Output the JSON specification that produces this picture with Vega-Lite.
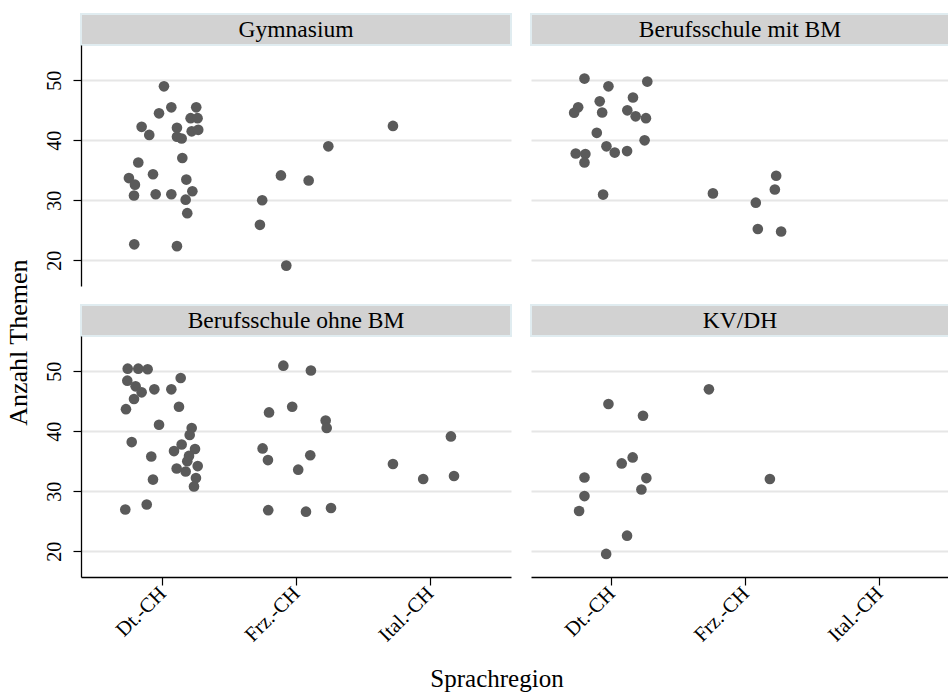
{
  "$schema": "https://vega.github.io/schema/vega-lite/v6.json",
  "padding": {"left": 5, "top": 13, "right": 0, "bottom": 0},
  "background": "#ffffff",
  "config": {
    "font": "Liberation Serif",
    "view": {"stroke": null},
    "axis": {"labelFont": "Liberation Serif", "labelColor": "#000000", "titleFont": "Liberation Serif"},
    "title": {"font": "Liberation Serif", "fontWeight": "normal", "color": "#000000"}
  },
  "datasets": {
    "pts": [
      {"schule": "Gymnasium", "pos": 1.012, "anzahl": 49.0},
      {"schule": "Gymnasium", "pos": 1.067, "anzahl": 45.5},
      {"schule": "Gymnasium", "pos": 1.253, "anzahl": 45.5},
      {"schule": "Gymnasium", "pos": 0.975, "anzahl": 44.5},
      {"schule": "Gymnasium", "pos": 1.211, "anzahl": 43.7},
      {"schule": "Gymnasium", "pos": 1.263, "anzahl": 43.7},
      {"schule": "Gymnasium", "pos": 0.845, "anzahl": 42.25},
      {"schule": "Gymnasium", "pos": 1.109, "anzahl": 42.1},
      {"schule": "Gymnasium", "pos": 0.902, "anzahl": 40.9},
      {"schule": "Gymnasium", "pos": 1.109, "anzahl": 40.6},
      {"schule": "Gymnasium", "pos": 1.144, "anzahl": 40.3},
      {"schule": "Gymnasium", "pos": 1.219, "anzahl": 41.5},
      {"schule": "Gymnasium", "pos": 1.268, "anzahl": 41.75},
      {"schule": "Gymnasium", "pos": 1.149, "anzahl": 37.05},
      {"schule": "Gymnasium", "pos": 0.82, "anzahl": 36.3},
      {"schule": "Gymnasium", "pos": 0.93, "anzahl": 34.35},
      {"schule": "Gymnasium", "pos": 0.75, "anzahl": 33.7},
      {"schule": "Gymnasium", "pos": 0.795, "anzahl": 32.6},
      {"schule": "Gymnasium", "pos": 1.179, "anzahl": 33.45},
      {"schule": "Gymnasium", "pos": 0.788, "anzahl": 30.8},
      {"schule": "Gymnasium", "pos": 0.95, "anzahl": 31.0},
      {"schule": "Gymnasium", "pos": 1.067, "anzahl": 31.0},
      {"schule": "Gymnasium", "pos": 1.224, "anzahl": 31.5},
      {"schule": "Gymnasium", "pos": 1.174, "anzahl": 30.1},
      {"schule": "Gymnasium", "pos": 1.186, "anzahl": 27.85},
      {"schule": "Gymnasium", "pos": 0.79, "anzahl": 22.65},
      {"schule": "Gymnasium", "pos": 1.109, "anzahl": 22.35},
      {"schule": "Gymnasium", "pos": 1.746, "anzahl": 30.0},
      {"schule": "Gymnasium", "pos": 1.729, "anzahl": 25.9},
      {"schule": "Gymnasium", "pos": 1.886, "anzahl": 34.15},
      {"schule": "Gymnasium", "pos": 2.093, "anzahl": 33.3},
      {"schule": "Gymnasium", "pos": 2.24, "anzahl": 39.0},
      {"schule": "Gymnasium", "pos": 1.926, "anzahl": 19.1},
      {"schule": "Gymnasium", "pos": 2.723, "anzahl": 42.4},

      {"schule": "Berufsschule mit BM", "pos": 0.799, "anzahl": 50.3},
      {"schule": "Berufsschule mit BM", "pos": 0.978, "anzahl": 49.0},
      {"schule": "Berufsschule mit BM", "pos": 1.268, "anzahl": 49.8},
      {"schule": "Berufsschule mit BM", "pos": 0.913, "anzahl": 46.5},
      {"schule": "Berufsschule mit BM", "pos": 1.161, "anzahl": 47.15},
      {"schule": "Berufsschule mit BM", "pos": 0.752, "anzahl": 45.5},
      {"schule": "Berufsschule mit BM", "pos": 0.722, "anzahl": 44.6},
      {"schule": "Berufsschule mit BM", "pos": 0.931, "anzahl": 44.65},
      {"schule": "Berufsschule mit BM", "pos": 1.119, "anzahl": 45.0},
      {"schule": "Berufsschule mit BM", "pos": 1.181, "anzahl": 44.0},
      {"schule": "Berufsschule mit BM", "pos": 1.258, "anzahl": 43.7},
      {"schule": "Berufsschule mit BM", "pos": 0.891, "anzahl": 41.25},
      {"schule": "Berufsschule mit BM", "pos": 1.248, "anzahl": 40.0},
      {"schule": "Berufsschule mit BM", "pos": 0.963, "anzahl": 39.0},
      {"schule": "Berufsschule mit BM", "pos": 1.025, "anzahl": 37.95},
      {"schule": "Berufsschule mit BM", "pos": 1.117, "anzahl": 38.2},
      {"schule": "Berufsschule mit BM", "pos": 0.734, "anzahl": 37.8},
      {"schule": "Berufsschule mit BM", "pos": 0.806, "anzahl": 37.7},
      {"schule": "Berufsschule mit BM", "pos": 0.799, "anzahl": 36.3},
      {"schule": "Berufsschule mit BM", "pos": 0.938, "anzahl": 30.95},
      {"schule": "Berufsschule mit BM", "pos": 1.758, "anzahl": 31.15},
      {"schule": "Berufsschule mit BM", "pos": 2.23, "anzahl": 34.1},
      {"schule": "Berufsschule mit BM", "pos": 2.22, "anzahl": 31.8},
      {"schule": "Berufsschule mit BM", "pos": 2.078, "anzahl": 29.6},
      {"schule": "Berufsschule mit BM", "pos": 2.093, "anzahl": 25.2},
      {"schule": "Berufsschule mit BM", "pos": 2.267, "anzahl": 24.8},

      {"schule": "Berufsschule ohne BM", "pos": 0.741, "anzahl": 50.45},
      {"schule": "Berufsschule ohne BM", "pos": 0.82, "anzahl": 50.45},
      {"schule": "Berufsschule ohne BM", "pos": 0.89, "anzahl": 50.35},
      {"schule": "Berufsschule ohne BM", "pos": 0.738, "anzahl": 48.45},
      {"schule": "Berufsschule ohne BM", "pos": 1.137, "anzahl": 48.9},
      {"schule": "Berufsschule ohne BM", "pos": 0.8, "anzahl": 47.5},
      {"schule": "Berufsschule ohne BM", "pos": 0.845, "anzahl": 46.5},
      {"schule": "Berufsschule ohne BM", "pos": 0.788, "anzahl": 45.4},
      {"schule": "Berufsschule ohne BM", "pos": 0.94, "anzahl": 47.0},
      {"schule": "Berufsschule ohne BM", "pos": 1.067, "anzahl": 47.0},
      {"schule": "Berufsschule ohne BM", "pos": 0.728, "anzahl": 43.7},
      {"schule": "Berufsschule ohne BM", "pos": 1.124, "anzahl": 44.1},
      {"schule": "Berufsschule ohne BM", "pos": 0.975, "anzahl": 41.1},
      {"schule": "Berufsschule ohne BM", "pos": 1.219, "anzahl": 40.55},
      {"schule": "Berufsschule ohne BM", "pos": 1.204, "anzahl": 39.4},
      {"schule": "Berufsschule ohne BM", "pos": 0.771, "anzahl": 38.2},
      {"schule": "Berufsschule ohne BM", "pos": 1.144, "anzahl": 37.8},
      {"schule": "Berufsschule ohne BM", "pos": 1.244, "anzahl": 37.05},
      {"schule": "Berufsschule ohne BM", "pos": 1.087, "anzahl": 36.7},
      {"schule": "Berufsschule ohne BM", "pos": 1.199, "anzahl": 35.9},
      {"schule": "Berufsschule ohne BM", "pos": 0.917, "anzahl": 35.8},
      {"schule": "Berufsschule ohne BM", "pos": 1.186, "anzahl": 35.0},
      {"schule": "Berufsschule ohne BM", "pos": 1.264, "anzahl": 34.2},
      {"schule": "Berufsschule ohne BM", "pos": 1.107, "anzahl": 33.8},
      {"schule": "Berufsschule ohne BM", "pos": 1.174, "anzahl": 33.3},
      {"schule": "Berufsschule ohne BM", "pos": 0.93, "anzahl": 31.95},
      {"schule": "Berufsschule ohne BM", "pos": 1.251, "anzahl": 32.2},
      {"schule": "Berufsschule ohne BM", "pos": 1.236, "anzahl": 30.8},
      {"schule": "Berufsschule ohne BM", "pos": 0.883, "anzahl": 27.8},
      {"schule": "Berufsschule ohne BM", "pos": 0.723, "anzahl": 26.95},
      {"schule": "Berufsschule ohne BM", "pos": 1.904, "anzahl": 50.95},
      {"schule": "Berufsschule ohne BM", "pos": 2.11, "anzahl": 50.15},
      {"schule": "Berufsschule ohne BM", "pos": 1.97, "anzahl": 44.1},
      {"schule": "Berufsschule ohne BM", "pos": 1.797, "anzahl": 43.15},
      {"schule": "Berufsschule ohne BM", "pos": 2.22, "anzahl": 41.8},
      {"schule": "Berufsschule ohne BM", "pos": 2.228, "anzahl": 40.55},
      {"schule": "Berufsschule ohne BM", "pos": 1.749, "anzahl": 37.15},
      {"schule": "Berufsschule ohne BM", "pos": 1.789, "anzahl": 35.2},
      {"schule": "Berufsschule ohne BM", "pos": 2.105, "anzahl": 36.0},
      {"schule": "Berufsschule ohne BM", "pos": 2.015, "anzahl": 33.6},
      {"schule": "Berufsschule ohne BM", "pos": 1.791, "anzahl": 26.85},
      {"schule": "Berufsschule ohne BM", "pos": 2.073, "anzahl": 26.6},
      {"schule": "Berufsschule ohne BM", "pos": 2.26, "anzahl": 27.2},
      {"schule": "Berufsschule ohne BM", "pos": 2.723, "anzahl": 34.55},
      {"schule": "Berufsschule ohne BM", "pos": 2.949, "anzahl": 32.05},
      {"schule": "Berufsschule ohne BM", "pos": 3.179, "anzahl": 32.55},
      {"schule": "Berufsschule ohne BM", "pos": 3.156, "anzahl": 39.15},

      {"schule": "KV/DH", "pos": 0.978, "anzahl": 44.55},
      {"schule": "KV/DH", "pos": 1.236, "anzahl": 42.6},
      {"schule": "KV/DH", "pos": 1.728, "anzahl": 47.0},
      {"schule": "KV/DH", "pos": 1.159, "anzahl": 35.65},
      {"schule": "KV/DH", "pos": 1.077, "anzahl": 34.65},
      {"schule": "KV/DH", "pos": 0.799, "anzahl": 32.3},
      {"schule": "KV/DH", "pos": 1.261, "anzahl": 32.2},
      {"schule": "KV/DH", "pos": 1.224, "anzahl": 30.3},
      {"schule": "KV/DH", "pos": 0.799, "anzahl": 29.2},
      {"schule": "KV/DH", "pos": 0.759, "anzahl": 26.7},
      {"schule": "KV/DH", "pos": 1.117, "anzahl": 22.6},
      {"schule": "KV/DH", "pos": 0.961, "anzahl": 19.55},
      {"schule": "KV/DH", "pos": 2.183, "anzahl": 32.05}
    ]
  },
  "title": {"text": "Anzahl Themen", "orient": "left", "anchor": "middle", "fontSize": 26, "offset": 12, "dx": 10},
  "spacing": 18,
  "resolve": {"scale": {"x": "independent", "y": "independent"}},
  "vconcat": [
    {
      "spacing": 18,
      "resolve": {"scale": {"x": "independent", "y": "independent"}},
      "hconcat": [
        {
          "spacing": 0,
          "bounds": "flush",
          "resolve": {"scale": {"x": "independent", "y": "independent"}},
          "vconcat": [
            {
              "width": 430, "height": 31,
              "data": {"values": [{"label": "Gymnasium"}]},
              "view": {"fill": "#d2d2d2", "stroke": "#e0ecf0", "strokeWidth": 2},
              "mark": {"type": "text", "fontSize": 23.5, "font": "Liberation Serif", "color": "#000000", "baseline": "middle", "align": "center"},
              "encoding": {"text": {"field": "label"}}
            },
            {
              "width": 430, "height": 241,
              "data": {"name": "pts"},
              "transform": [{"filter": "datum.schule === 'Gymnasium'"}],
              "mark": {"type": "circle", "size": 113, "color": "#5a5a5a", "opacity": 1},
              "encoding": {
                "x": {"field": "pos", "type": "quantitative", "scale": {"domain": [0.392, 3.605], "nice": false, "zero": false}, "axis": null},
                "y": {"field": "anzahl", "type": "quantitative", "scale": {"domain": [15.7, 55.9], "nice": false, "zero": false},
                  "axis": {"values": [20, 30, 40, 50], "title": null, "grid": true, "gridColor": "#e6e6e6", "gridWidth": 2, "domainColor": "#000000", "domainWidth": 1.3, "tickColor": "#000000", "tickWidth": 1.2, "tickSize": 8, "labelAngle": -90, "labelAlign": "center", "labelBaseline": "bottom", "labelPadding": 9, "labelFontSize": 20}}
              }
            }
          ]
        },
        {
          "spacing": 0,
          "bounds": "flush",
          "resolve": {"scale": {"x": "independent", "y": "independent"}},
          "vconcat": [
            {
              "width": 418, "height": 31,
              "data": {"values": [{"label": "Berufsschule mit BM"}]},
              "view": {"fill": "#d2d2d2", "stroke": "#e0ecf0", "strokeWidth": 2},
              "mark": {"type": "text", "fontSize": 23.5, "font": "Liberation Serif", "color": "#000000", "baseline": "middle", "align": "center"},
              "encoding": {"text": {"field": "label"}}
            },
            {
              "width": 418, "height": 241,
              "data": {"name": "pts"},
              "transform": [{"filter": "datum.schule === 'Berufsschule mit BM'"}],
              "mark": {"type": "circle", "size": 113, "color": "#5a5a5a", "opacity": 1},
              "encoding": {
                "x": {"field": "pos", "type": "quantitative", "scale": {"domain": [0.40, 3.52], "nice": false, "zero": false}, "axis": null},
                "y": {"field": "anzahl", "type": "quantitative", "scale": {"domain": [15.7, 55.9], "nice": false, "zero": false},
                  "axis": {"values": [20, 30, 40, 50], "title": null, "grid": true, "gridColor": "#e6e6e6", "gridWidth": 2, "domain": false, "ticks": false, "labels": false}}
              }
            }
          ]
        }
      ]
    },
    {
      "spacing": 18,
      "resolve": {"scale": {"x": "independent", "y": "independent"}},
      "title": {"text": "Sprachregion", "orient": "bottom", "anchor": "middle", "fontSize": 25, "offset": 22},
      "hconcat": [
        {
          "spacing": 0,
          "bounds": "flush",
          "resolve": {"scale": {"x": "independent", "y": "independent"}},
          "vconcat": [
            {
              "width": 430, "height": 31,
              "data": {"values": [{"label": "Berufsschule ohne BM"}]},
              "view": {"fill": "#d2d2d2", "stroke": "#e0ecf0", "strokeWidth": 2},
              "mark": {"type": "text", "fontSize": 23.5, "font": "Liberation Serif", "color": "#000000", "baseline": "middle", "align": "center"},
              "encoding": {"text": {"field": "label"}}
            },
            {
              "width": 430, "height": 241,
              "data": {"name": "pts"},
              "transform": [{"filter": "datum.schule === 'Berufsschule ohne BM'"}],
              "mark": {"type": "circle", "size": 113, "color": "#5a5a5a", "opacity": 1},
              "encoding": {
                "x": {"field": "pos", "type": "quantitative", "scale": {"domain": [0.392, 3.605], "nice": false, "zero": false},
                  "axis": {"values": [1, 2, 3], "title": null, "grid": false, "labelExpr": "datum.value == 1 ? 'Dt.-CH' : datum.value == 2 ? 'Frz.-CH' : 'Ital.-CH'", "labelAngle": -45, "labelAlign": "right", "labelBaseline": "middle", "labelPadding": 5, "labelFontSize": 20.5, "domainColor": "#000000", "domainWidth": 1.3, "tickColor": "#000000", "tickWidth": 1.2, "tickSize": 8}},
                "y": {"field": "anzahl", "type": "quantitative", "scale": {"domain": [15.7, 55.9], "nice": false, "zero": false},
                  "axis": {"values": [20, 30, 40, 50], "title": null, "grid": true, "gridColor": "#e6e6e6", "gridWidth": 2, "domainColor": "#000000", "domainWidth": 1.3, "tickColor": "#000000", "tickWidth": 1.2, "tickSize": 8, "labelAngle": -90, "labelAlign": "center", "labelBaseline": "bottom", "labelPadding": 9, "labelFontSize": 20}}
              }
            }
          ]
        },
        {
          "spacing": 0,
          "bounds": "flush",
          "resolve": {"scale": {"x": "independent", "y": "independent"}},
          "vconcat": [
            {
              "width": 418, "height": 31,
              "data": {"values": [{"label": "KV/DH"}]},
              "view": {"fill": "#d2d2d2", "stroke": "#e0ecf0", "strokeWidth": 2},
              "mark": {"type": "text", "fontSize": 23.5, "font": "Liberation Serif", "color": "#000000", "baseline": "middle", "align": "center"},
              "encoding": {"text": {"field": "label"}}
            },
            {
              "width": 418, "height": 241,
              "data": {"name": "pts"},
              "transform": [{"filter": "datum.schule === 'KV/DH'"}],
              "mark": {"type": "circle", "size": 113, "color": "#5a5a5a", "opacity": 1},
              "encoding": {
                "x": {"field": "pos", "type": "quantitative", "scale": {"domain": [0.40, 3.52], "nice": false, "zero": false},
                  "axis": {"values": [1, 2, 3], "title": null, "grid": false, "labelExpr": "datum.value == 1 ? 'Dt.-CH' : datum.value == 2 ? 'Frz.-CH' : 'Ital.-CH'", "labelAngle": -45, "labelAlign": "right", "labelBaseline": "middle", "labelPadding": 5, "labelFontSize": 20.5, "domainColor": "#000000", "domainWidth": 1.3, "tickColor": "#000000", "tickWidth": 1.2, "tickSize": 8}},
                "y": {"field": "anzahl", "type": "quantitative", "scale": {"domain": [15.7, 55.9], "nice": false, "zero": false},
                  "axis": {"values": [20, 30, 40, 50], "title": null, "grid": true, "gridColor": "#e6e6e6", "gridWidth": 2, "domain": false, "ticks": false, "labels": false}}
              }
            }
          ]
        }
      ]
    }
  ]
}
